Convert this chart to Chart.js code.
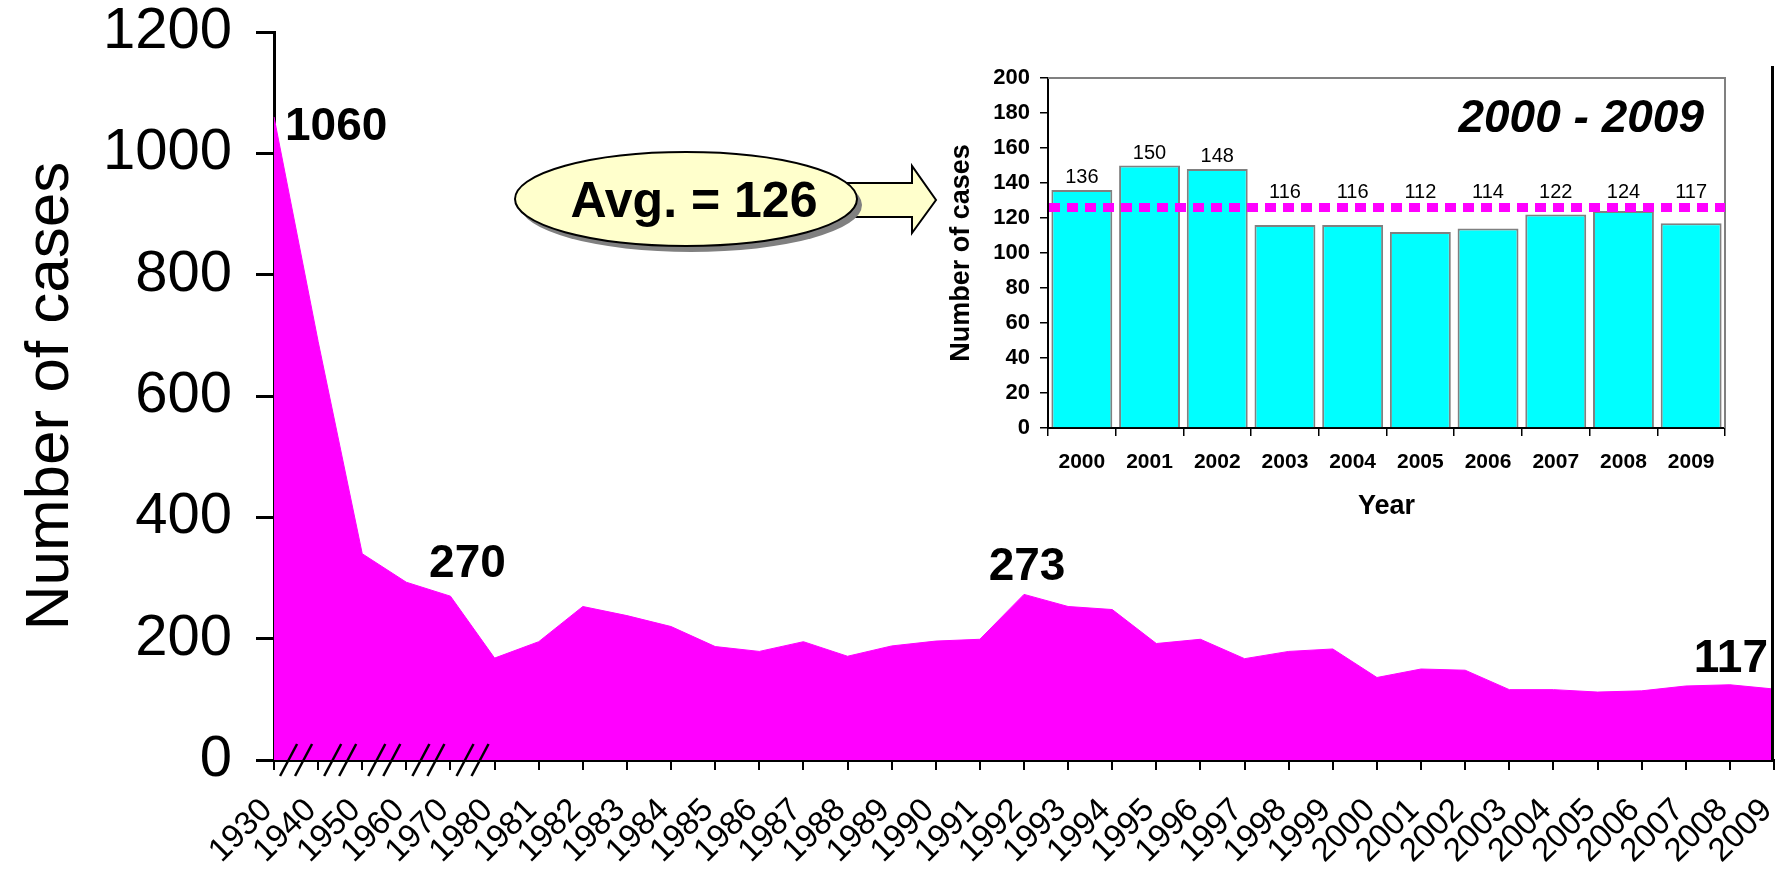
<!DOCTYPE html>
<html lang="en">
<head>
<meta charset="UTF-8">
<title>Number of cases 1930 - 2009</title>
<script src="https://cdn.jsdelivr.net/npm/chart.js"></script>
<style>
  html, body { margin: 0; padding: 0; background: #fff; }
  #wrap { position: relative; width: 1776px; height: 869px; }
  #mainChart { position: absolute; left: 0; top: 0; }
  #insetChart { position: absolute; left: 940px; top: 50px; }
</style>
</head>
<body>
<div id="wrap">
  <canvas id="mainChart" width="1776" height="869"></canvas>
  <canvas id="insetChart" width="800" height="480"></canvas>
</div>
<script>
// main series (years before 1981 are decades, hence the axis breaks)
const years = ['1930','1940','1950','1960','1970','1980','1981','1982','1983','1984',
  '1985','1986','1987','1988','1989','1990','1991','1992','1993','1994','1995','1996',
  '1997','1998','1999','2000','2001','2002','2003','2004','2005','2006','2007','2008','2009'];
const cases = [1060, 690, 340, 293, 270, 168, 195, 253, 238, 220,
  187, 179, 195, 171, 188, 196, 199, 273, 253, 248, 192, 199,
  167, 179, 183, 136, 150, 148, 116, 116, 112, 114, 122, 124, 117];
const labelledPoints = [0, 4, 17, 34];
const brokenIntervals = 5;

// inset 2000 - 2009
const insetYears = ['2000','2001','2002','2003','2004','2005','2006','2007','2008','2009'];
const insetCases = [136, 150, 148, 116, 116, 112, 114, 122, 124, 117];
const avgCases = 126;

const FONT = "'Liberation Sans', Arial, sans-serif";

// label placement for the main values: [align, dx, dy from point]
const pointLabelPos = { 0: ['left', 11, 23], 4: ['center', 17, -19], 17: ['center', 3, -14], 34: ['right', -6, -17] };

const mainDecor = {
  id: 'mainDecor',
  afterDraw(chart) {
    const ctx = chart.ctx, xs = chart.scales.x, ys = chart.scales.y, area = chart.chartArea;
    const base = ys.getPixelForValue(0);
    ctx.save();
    // axis break marks
    ctx.strokeStyle = '#000';
    ctx.lineWidth = 2.5;
    for (let i = 0; i < brokenIntervals; i++) {
      const cx = (xs.getPixelForValue(i) + xs.getPixelForValue(i + 1)) / 2;
      [-7.5, 7.5].forEach(d => {
        ctx.beginPath();
        ctx.moveTo(cx + d - 8.5, base + 16);
        ctx.lineTo(cx + d + 8.5, base - 16);
        ctx.stroke();
      });
    }
    // right border
    ctx.lineWidth = 3;
    ctx.beginPath();
    ctx.moveTo(area.right - 1.5, 66);
    ctx.lineTo(area.right - 1.5, area.bottom);
    ctx.stroke();

    // value labels
    const meta = chart.getDatasetMeta(0);
    ctx.fillStyle = '#000';
    ctx.font = 'bold 46px ' + FONT;
    ctx.textBaseline = 'alphabetic';
    labelledPoints.forEach(i => {
      const p = meta.data[i], pos = pointLabelPos[i];
      ctx.textAlign = pos[0];
      ctx.fillText(String(cases[i]), p.x + pos[1], p.y + pos[2]);
    });

    // callout arrow
    ctx.fillStyle = '#ffffcc';
    ctx.strokeStyle = '#000';
    ctx.lineWidth = 2;
    ctx.beginPath();
    ctx.moveTo(830, 183);
    ctx.lineTo(912, 183);
    ctx.lineTo(912, 166);
    ctx.lineTo(936, 200);
    ctx.lineTo(912, 233);
    ctx.lineTo(912, 217);
    ctx.lineTo(830, 217);
    ctx.closePath();
    ctx.fill();
    ctx.stroke();

    // callout ellipse with shadow
    ctx.fillStyle = '#808080';
    ctx.beginPath();
    ctx.ellipse(691, 205, 171, 47, 0, 0, Math.PI * 2);
    ctx.fill();
    ctx.fillStyle = '#ffffcc';
    ctx.beginPath();
    ctx.ellipse(686, 199, 171, 47, 0, 0, Math.PI * 2);
    ctx.fill();
    ctx.stroke();
    ctx.fillStyle = '#000';
    ctx.font = 'bold 50px ' + FONT;
    ctx.textAlign = 'center';
    ctx.textBaseline = 'alphabetic';
    ctx.fillText('Avg. = ' + avgCases, 694, 217);
    ctx.restore();
  }
};

new Chart(document.getElementById('mainChart'), {
  type: 'line',
  data: {
    labels: years,
    datasets: [{
      data: cases,
      fill: 'origin',
      backgroundColor: '#ff00ff',
      borderColor: '#ff00ff',
      borderWidth: 1,
      pointRadius: 0,
      tension: 0
    }]
  },
  options: {
    responsive: false,
    animation: false,
    layout: { padding: { top: 32, right: 2, left: 0, bottom: 0 } },
    plugins: { legend: { display: false }, tooltip: { enabled: false } },
    scales: {
      x: {
        grid: { drawOnChartArea: false, drawTicks: true, tickLength: 10, color: '#000', lineWidth: 2 },
        border: { display: true, color: '#000', width: 3 },
        ticks: { autoSkip: false, minRotation: 45, maxRotation: 45, padding: 21, labelOffset: -7,
                 color: '#000', font: { family: FONT, size: 33 } },
        afterFit: s => { s.height = 109; s.paddingLeft = 0; s.paddingRight = 0; }
      },
      y: {
        min: 0, max: 1200,
        ticks: { stepSize: 200, padding: 24, color: '#000', font: { family: FONT, size: 58 },
                 callback: v => String(v) },
        grid: { drawOnChartArea: false, tickLength: 18, color: '#000', lineWidth: 3 },
        border: { color: '#000', width: 3 },
        title: { display: true, text: 'Number of cases', color: '#000',
                 font: { family: FONT, size: 62 }, padding: { top: 14, bottom: 0 } },
        afterFit: s => { s.width = 274; s.paddingTop = 0; s.paddingBottom = 0; }
      }
    }
  },
  plugins: [mainDecor]
});

const insetDecor = {
  id: 'insetDecor',
  afterDatasetsDraw(chart) {
    const ctx = chart.ctx, ys = chart.scales.y, area = chart.chartArea;
    const avgY = ys.getPixelForValue(avgCases);
    ctx.save();
    // plot border top / right
    ctx.strokeStyle = '#808080';
    ctx.lineWidth = 2;
    ctx.beginPath();
    ctx.moveTo(area.left, area.top);
    ctx.lineTo(area.right, area.top);
    ctx.lineTo(area.right, area.bottom);
    ctx.stroke();
    // average line
    ctx.strokeStyle = '#ff00ff';
    ctx.lineWidth = 9;
    ctx.setLineDash([11, 7]);
    ctx.beginPath();
    ctx.moveTo(area.left + 1, avgY);
    ctx.lineTo(area.right, avgY);
    ctx.stroke();
    ctx.setLineDash([]);
    // bar values
    const meta = chart.getDatasetMeta(0);
    ctx.fillStyle = '#000';
    ctx.font = '20px ' + FONT;
    ctx.textAlign = 'center';
    ctx.textBaseline = 'alphabetic';
    insetCases.forEach((v, i) => {
      const y = v >= avgCases ? ys.getPixelForValue(v) - 7 : avgY - 10;
      ctx.fillText(String(v), meta.data[i].x, y);
    });
    // period title
    ctx.font = 'italic bold 46px ' + FONT;
    ctx.textAlign = 'right';
    ctx.fillText(insetYears[0] + ' - ' + insetYears[insetYears.length - 1], area.right - 21, area.top + 54);
    ctx.restore();
  }
};

new Chart(document.getElementById('insetChart'), {
  type: 'bar',
  data: {
    labels: insetYears,
    datasets: [{
      data: insetCases,
      backgroundColor: '#00ffff',
      borderColor: '#808080',
      borderWidth: 2,
      barPercentage: 0.9,
      categoryPercentage: 1
    }]
  },
  options: {
    responsive: false,
    animation: false,
    layout: { padding: { top: 28, right: 15, left: 0, bottom: 0 } },
    plugins: { legend: { display: false }, tooltip: { enabled: false } },
    scales: {
      x: {
        grid: { drawOnChartArea: false, tickLength: 8, color: '#000', lineWidth: 1.5 },
        border: { color: '#000', width: 2 },
        ticks: { autoSkip: false, maxRotation: 0, padding: 14, color: '#000',
                 font: { family: FONT, size: 21, weight: 'bold' } },
        title: { display: true, text: 'Year', color: '#000',
                 font: { family: FONT, size: 27, weight: 'bold' }, padding: { top: 4, bottom: 7 } },
        afterFit: s => { s.height = 102; s.paddingLeft = 0; s.paddingRight = 0; }
      },
      y: {
        min: 0, max: 200,
        ticks: { stepSize: 20, autoSkip: false, padding: 10, color: '#000',
                 font: { family: FONT, size: 22, weight: 'bold' } },
        grid: { drawOnChartArea: false, tickLength: 8, color: '#000', lineWidth: 1.5 },
        border: { color: '#000', width: 2 },
        title: { display: true, text: 'Number of cases', color: '#000',
                 font: { family: FONT, size: 27, weight: 'bold' }, padding: { top: 5, bottom: 0 } },
        afterFit: s => { s.width = 108; s.paddingTop = 0; s.paddingBottom = 0; }
      }
    }
  },
  plugins: [insetDecor]
});
</script>
</body>
</html>
